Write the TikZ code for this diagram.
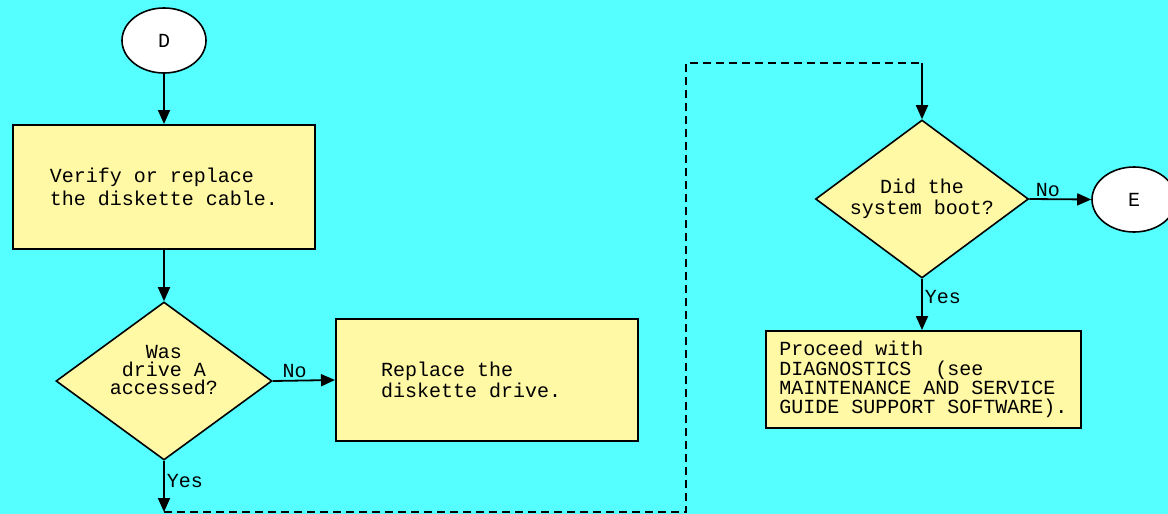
\documentclass[tikz,border=0pt]{standalone}
\usepackage{fontspec}
\newfontfamily\pixfont{Liberation Mono}[WordSpace={1,0,0}]
\usepackage{tikz}
\usetikzlibrary{positioning,arrows.meta,shapes.geometric}
\definecolor{bgcyan}{RGB}{85,255,255}
\definecolor{boxyel}{RGB}{255,248,165}
\newcommand{\pixsize}[1]{\pixfont\fontsize{20}{#1}\selectfont\spaceskip=12pt\relax}

\begin{document}
\begin{tikzpicture}[x=1pt, y=-1pt,
  font=\pixsize{21},
  box/.style={draw, line width=2pt, fill=boxyel, align=left, inner ysep=0pt,
    execute at begin node={\spaceskip=12pt\relax}},
  decision/.style={diamond, draw, line width=1.6pt, fill=boxyel, align=center, inner sep=0pt, aspect=1.36},
  term/.style={ellipse, draw, line width=1.6pt, fill=white, minimum width=84pt, minimum height=65pt},
  flow/.style={line width=1.8pt, -{Triangle[length=14pt,width=12pt]}},
  lbl/.style={inner sep=2pt}]
  \useasboundingbox (0,0) rectangle (1168,514);
  \fill[bgcyan] (0,0) rectangle (1168,514);
  % left column
  \node[term] (d) at (164,40.5) {D};
  \node[box, minimum width=302pt, minimum height=124pt, font=\pixsize{23}] (cable) at (164,187)
    {Verify or replace\\the diskette cable.};
  \node[decision, minimum width=216pt, minimum height=158pt, font=\pixsize{18}] (drvA) at (164,381)
    {Was\\drive A\\accessed?\\[4pt]};
  \node[box, text width=212pt, inner xsep=45pt, minimum height=122pt] (repl) at (487,380)
    {Replace the\\diskette drive.};
  % right column
  \node[decision, minimum width=213pt, minimum height=158pt] (boot) at (922,199)
    {Did the\\system boot?};
  \node[term] (e) at (1134,199.5) {E};
  \node[box, minimum width=315pt, minimum height=97pt, font=\pixsize{19.3}] (diag) at (923.5,379.5)
    {Proceed with\\DIAGNOSTICS\ \ (see\\MAINTENANCE AND SERVICE\\GUIDE SUPPORT SOFTWARE).};
  % off-page link
  \coordinate (yesA) at (164,512);
  \coordinate (c1) at (686,512);
  \coordinate (c2) at (686,63);
  \coordinate (top2) at (922,63);
  % connectors
  \draw[flow] (d) -- (cable);
  \draw[flow] (cable) -- (drvA);
  \draw[flow] (drvA.east) -- node[lbl, above, pos=0.35] {No} (repl.west);
  \draw[flow] (drvA.south) -- node[lbl, right, pos=0.4] {Yes} (yesA);
  \draw[line width=1.5pt, dash pattern=on 8pt off 5pt] (yesA) -- (c1) -- (c2) -- (top2);
  \draw[flow] (top2) -- (boot.north);
  \draw[flow] (boot.east) -- node[lbl, above, pos=0.3] {No} (e.west);
  \draw[flow] (boot.south) -- node[lbl, right, pos=0.35] {Yes} (boot.south |- diag.north);
\end{tikzpicture}
\end{document}
